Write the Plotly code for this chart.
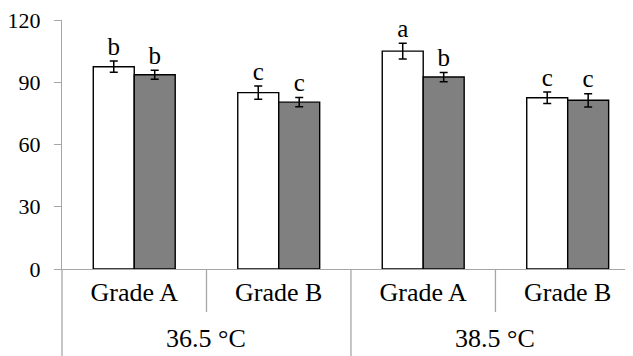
import plotly.graph_objects as go

temps = ["36.5 °C", "36.5 °C", "38.5 °C", "38.5 °C"]
grades = ["Grade A", "Grade B", "Grade A", "Grade B"]
temp_groups = ["36.5 °C", "38.5 °C"]
white_vals = [97.5, 85.0, 105.0, 82.5]
white_err = [2.7, 3.2, 3.8, 2.8]
grey_vals = [93.6, 80.4, 92.5, 81.3]
grey_err = [2.2, 2.2, 2.2, 3.2]
white_letters = ["b", "c", "a", "c"]
grey_letters = ["b", "c", "b", "c"]
y_ticks = [0, 30, 60, 90, 120]

FONT = "Liberation Serif, Times New Roman, serif"
AXIS_COLOR = "#a6a6a6"
X_RANGE = [-0.5, 3.452]

x = [f"{t} | {g}" for t, g in zip(temps, grades)]

fig = go.Figure()
for vals, errs, color, grp in [(white_vals, white_err, "white", "w"),
                               (grey_vals, grey_err, "#808080", "g")]:
    fig.add_trace(go.Bar(
        x=x, y=vals, offsetgroup=grp,
        marker=dict(color=color, line=dict(color="black", width=1.4)),
        error_y=dict(type="data", array=errs, color="black", thickness=1.5, width=4),
        showlegend=False,
    ))

for vals, errs, letters, grp in [(white_vals, white_err, white_letters, "w"),
                                 (grey_vals, grey_err, grey_letters, "g")]:
    fig.add_trace(go.Scatter(
        x=x, y=[v + e for v, e in zip(vals, errs)], offsetgroup=grp,
        mode="text", text=letters, textposition="top center",
        textfont=dict(family=FONT, size=25, color="black"),
        showlegend=False, cliponaxis=False,
    ))

line_style = dict(color=AXIS_COLOR, width=1.3)
shapes = [
    dict(type="line", xref="paper", yref="paper", x0=0, x1=0, y0=0, y1=-0.36,
         line=line_style),
]
# short dividers between grades, long divider between temperatures
for i in range(len(x) - 1):
    long_div = temps[i] != temps[i + 1]
    shapes.append(dict(type="line", xref="x", yref="paper", x0=i + 0.5, x1=i + 0.5,
                       y0=0, y1=-0.36 if long_div else -0.173, line=line_style))

annotations = []
for t in temp_groups:
    idx = [i for i, tt in enumerate(temps) if tt == t]
    annotations.append(dict(
        x=sum(idx) / len(idx), xref="x", y=-0.28, yref="paper",
        text=t, showarrow=False, yanchor="middle", xanchor="center",
        font=dict(family=FONT, size=26, color="black"),
    ))

# page body has an 8px margin; size the figure so the plot lands where the reference has it
fig.update_layout(
    width=625, height=348,
    margin=dict(l=54, r=0, t=12, b=87),
    paper_bgcolor="white", plot_bgcolor="white",
    barmode="group", bargap=0.433, bargroupgap=0,
    scattermode="group", scattergap=0.433,
    font=dict(family=FONT, color="black"),
    shapes=shapes, annotations=annotations,
)
fig.update_yaxes(
    range=[0, 120], tickvals=y_ticks, showgrid=False, zeroline=False,
    showline=True, linecolor=AXIS_COLOR, linewidth=1.3,
    ticks="outside", ticklen=7, tickcolor=AXIS_COLOR, tickwidth=1.3,
    tickfont=dict(family=FONT, size=22, color="black"),
    ticklabelstandoff=9, automargin=False, ticklabeloverflow="allow",
)
fig.update_xaxes(
    type="category", range=X_RANGE, showgrid=False, zeroline=False,
    showline=True, linecolor=AXIS_COLOR, linewidth=1.3,
    ticks="", tickvals=x, ticktext=grades,
    tickfont=dict(family=FONT, size=26, color="black"),
    automargin=False, ticklabeloverflow="allow",
)

fig.write_html("out.html")
